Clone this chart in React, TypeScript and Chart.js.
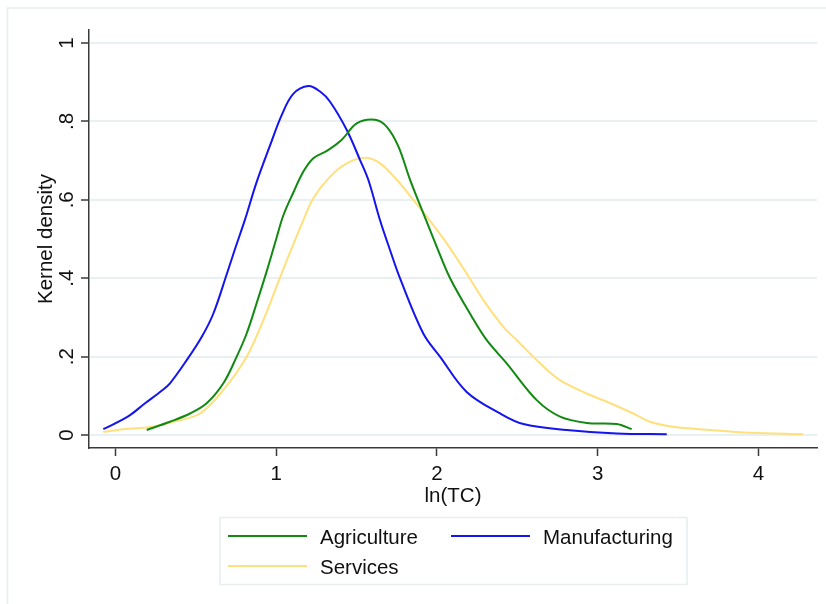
import React, { useEffect, useRef } from "react";
import { Chart, registerables } from "chart.js";

Chart.register(...registerables);

const agriX = [0.194, 0.339, 0.464, 0.567, 0.671, 0.754, 0.816, 0.878, 0.941, 1.0, 1.044, 1.106, 1.169, 1.231, 1.32, 1.408, 1.501, 1.615, 1.688, 1.76, 1.833, 1.915, 1.999, 2.082, 2.217, 2.31, 2.434, 2.621, 2.766, 2.932, 3.119, 3.212];
const agriY = [0.013, 0.034, 0.055, 0.081, 0.132, 0.2, 0.259, 0.336, 0.418, 0.5, 0.56, 0.618, 0.672, 0.706, 0.726, 0.753, 0.795, 0.804, 0.786, 0.736, 0.651, 0.566, 0.48, 0.4, 0.302, 0.242, 0.183, 0.089, 0.047, 0.031, 0.028, 0.015];

const manuX = [-0.076, 0.076, 0.184, 0.287, 0.339, 0.443, 0.536, 0.609, 0.692, 0.744, 0.806, 0.878, 0.961, 1.034, 1.106, 1.2, 1.273, 1.335, 1.439, 1.521, 1.573, 1.646, 1.708, 1.77, 1.915, 2.019, 2.185, 2.393, 2.538, 2.808, 3.119, 3.43];
const manuY = [0.015, 0.047, 0.081, 0.113, 0.132, 0.191, 0.25, 0.31, 0.41, 0.475, 0.55, 0.645, 0.738, 0.816, 0.87, 0.89, 0.876, 0.85, 0.778, 0.702, 0.651, 0.548, 0.472, 0.4, 0.259, 0.2, 0.11, 0.055, 0.028, 0.013, 0.004, 0.002];

const servX = [-0.076, 0.049, 0.194, 0.36, 0.526, 0.671, 0.816, 0.92, 1.003, 1.075, 1.169, 1.231, 1.335, 1.439, 1.553, 1.646, 1.75, 1.853, 1.937, 2.061, 2.185, 2.289, 2.413, 2.497, 2.642, 2.766, 2.932, 3.057, 3.222, 3.326, 3.471, 3.699, 3.948, 4.28];
const servY = [0.008, 0.015, 0.019, 0.034, 0.055, 0.115, 0.2, 0.293, 0.38, 0.455, 0.548, 0.604, 0.659, 0.693, 0.707, 0.693, 0.651, 0.6, 0.557, 0.489, 0.412, 0.344, 0.276, 0.242, 0.183, 0.14, 0.106, 0.085, 0.055, 0.034, 0.021, 0.013, 0.006, 0.002];

const seriesNames = ["Agriculture", "Manufacturing", "Services"];
const seriesColors = ["#128a12", "#1414f0", "#ffe07c"];

const xTicks = [0, 1, 2, 3, 4];
const xTickLabels = ["0", "1", "2", "3", "4"];
const yTicks = [0, 0.2, 0.4, 0.6, 0.8, 1];
const yTickLabels = ["0", ".2", ".4", ".6", ".8", "1"];
const xTitle = "ln(TC)";
const yTitle = "Kernel density";

const FONT = '20.5px "Liberation Sans", Arial, sans-serif';
const TEXT = "#111111";

const toPts = (xs: number[], ys: number[]) => xs.map((x, i) => ({ x, y: ys[i] }));

const decorPlugin = {
  id: "decor",
  beforeDraw(chart: any) {
    const ctx = chart.ctx;
    ctx.save();
    ctx.fillStyle = "#ffffff";
    ctx.fillRect(0, 0, chart.width, chart.height);
    ctx.strokeStyle = "#e6eef0";
    ctx.lineWidth = 1.5;
    ctx.strokeRect(7.5, 8, 840, 640);
    ctx.restore();
  },
  afterDraw(chart: any) {
    const ctx = chart.ctx;
    const xs = chart.scales.x;
    const ys = chart.scales.y;
    const area = chart.chartArea;
    ctx.save();
    ctx.font = FONT;
    ctx.fillStyle = TEXT;
    yTicks.forEach((v, i) => {
      const py = ys.getPixelForValue(v);
      ctx.save();
      ctx.translate(72.5, py);
      ctx.rotate(-Math.PI / 2);
      ctx.textAlign = "center";
      ctx.textBaseline = "alphabetic";
      ctx.fillText(yTickLabels[i], 0, 0);
      ctx.restore();
    });
    ctx.save();
    ctx.translate(51.5, (area.top + area.bottom) / 2);
    ctx.rotate(-Math.PI / 2);
    ctx.textAlign = "center";
    ctx.textBaseline = "alphabetic";
    ctx.fillText(yTitle, 0, 0);
    ctx.restore();
    ctx.textAlign = "center";
    ctx.textBaseline = "alphabetic";
    xTicks.forEach((v, i) => {
      ctx.fillText(xTickLabels[i], xs.getPixelForValue(v), 480);
    });
    ctx.fillText(xTitle, (area.left + area.right) / 2, 502);
    ctx.strokeStyle = "#e6eef0";
    ctx.lineWidth = 1.5;
    ctx.strokeRect(220, 517.5, 467, 67);
    const items = [
      { lx: 228, ly: 536, tx: 320, ty: 544 },
      { lx: 451, ly: 536, tx: 543, ty: 544 },
      { lx: 228, ly: 566, tx: 320, ty: 573.5 },
    ];
    items.forEach((it, i) => {
      ctx.strokeStyle = seriesColors[i];
      ctx.lineWidth = 2;
      ctx.beginPath();
      ctx.moveTo(it.lx, it.ly);
      ctx.lineTo(it.lx + 79, it.ly);
      ctx.stroke();
      ctx.textAlign = "left";
      ctx.fillStyle = TEXT;
      ctx.fillText(seriesNames[i], it.tx, it.ty);
    });
    ctx.restore();
  },
};

export default function App() {
  const ref = useRef<HTMLCanvasElement | null>(null);
  useEffect(() => {
    if (!ref.current) return;
    const datasets = [
      { label: seriesNames[0], data: toPts(agriX, agriY) },
      { label: seriesNames[1], data: toPts(manuX, manuY) },
      { label: seriesNames[2], data: toPts(servX, servY) },
    ].map((d, i) => ({
      ...d,
      showLine: true,
      borderColor: seriesColors[i],
      backgroundColor: seriesColors[i],
      borderWidth: 2,
      pointRadius: 0,
      pointHoverRadius: 0,
      fill: false,
      tension: 0.35,
    }));
    const chart = new Chart(ref.current, {
      type: "scatter",
      data: { datasets },
      options: {
        animation: false,
        responsive: false,
        devicePixelRatio: 1,
        layout: { padding: { top: 30, right: 9, bottom: 0, left: 0 } },
        plugins: { legend: { display: false }, tooltip: { enabled: false } },
        scales: {
          x: {
            type: "linear",
            min: -0.165,
            max: 4.365,
            afterBuildTicks: (s: any) => {
              s.ticks = xTicks.map((v) => ({ value: v }));
            },
            afterFit: (s: any) => {
              s.height = 156;
            },
            ticks: { display: false },
            grid: {
              drawOnChartArea: false,
              drawTicks: true,
              tickLength: 8,
              tickColor: "#3a3a3a",
              tickWidth: 1.5,
            },
            border: { display: true, color: "#3a3a3a", width: 1.5 },
          },
          y: {
            type: "linear",
            min: -0.033,
            max: 1.033,
            afterBuildTicks: (s: any) => {
              s.ticks = yTicks.map((v) => ({ value: v }));
            },
            afterFit: (s: any) => {
              s.width = 89;
            },
            ticks: { display: false },
            grid: {
              color: "#e8f0f1",
              lineWidth: 2,
              drawTicks: true,
              tickLength: 8,
              tickColor: "#3a3a3a",
              tickWidth: 1.5,
            },
            border: { display: true, color: "#3a3a3a", width: 1.5 },
          },
        },
      },
      plugins: [decorPlugin],
    });
    return () => chart.destroy();
  }, []);
  return (
    <div style={{ position: "absolute", left: 0, top: 0, width: 826, height: 604 }}>
      <canvas ref={ref} width={826} height={604} style={{ display: "block" }} />
    </div>
  );
}
